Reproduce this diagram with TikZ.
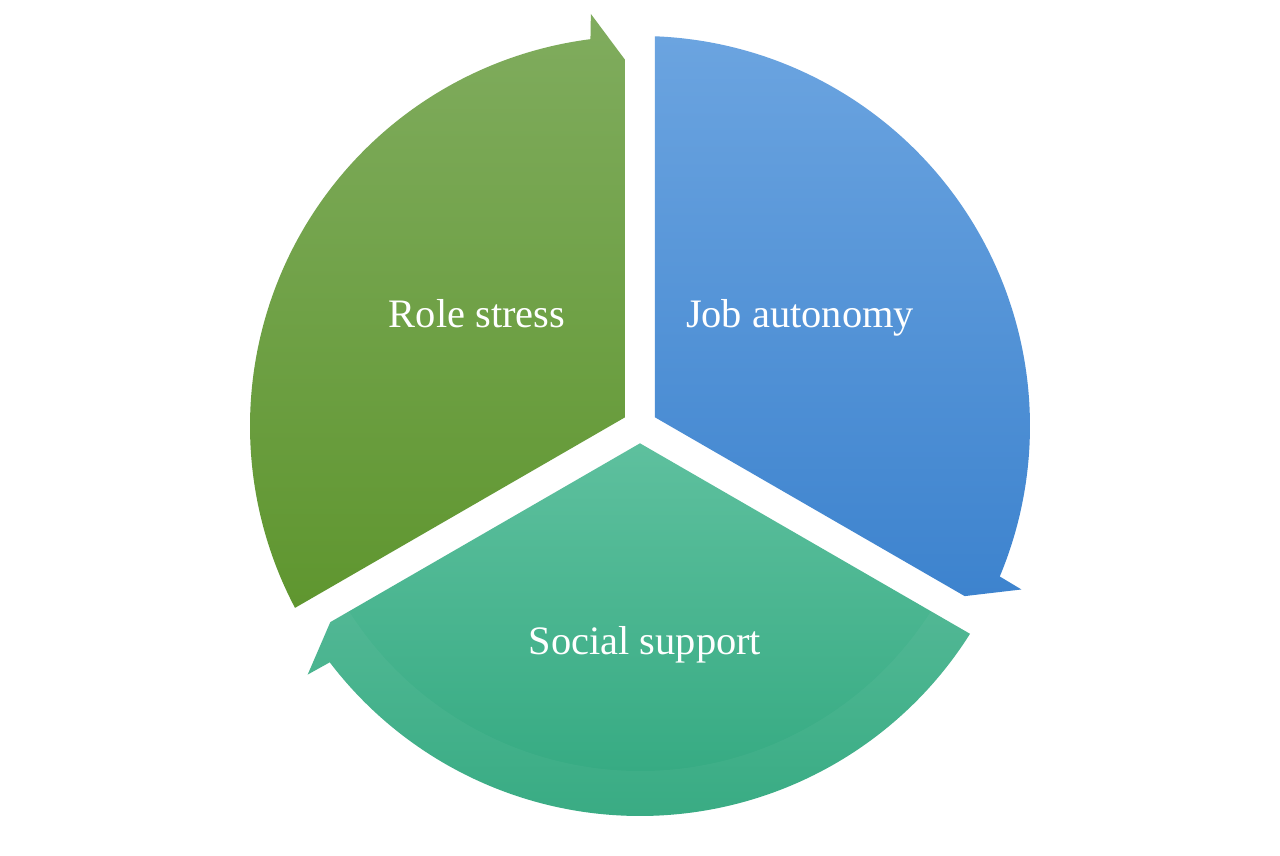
\documentclass[tikz,border=0pt]{standalone}
\usepackage{fontspec}
\setmainfont{Liberation Serif}
\definecolor{gTop}{HTML}{80AC5E}
\definecolor{gBot}{HTML}{5F962F}
\definecolor{bTop}{HTML}{6BA4E0}
\definecolor{bBot}{HTML}{3D83CE}
\definecolor{tTop}{HTML}{5EC09E}
\definecolor{tBot}{HTML}{31A87F}
\tikzset{
  seglabel/.style={text=white, anchor=base, inner sep=0pt, font=\fontsize{23}{28}\selectfont},
}
\begin{document}
\begin{tikzpicture}[scale=0.2]
\path[use as bounding box, fill=white] (-64,-43) rectangle (64,42.6);
% Role stress (green)
\path[top color=gTop, bottom color=gBot]
  (150:1.732) -- (207.8:39) arc[start angle=207.8, end angle=97.3, radius=39]
  -- (96.8:41.5) -- (92.35:36.66) -- cycle;
% Job autonomy (blue)
\path[top color=bTop, bottom color=bBot]
  (30:1.732) -- (87.8:39) arc[start angle=87.8, end angle=-22.7, radius=39]
  -- (-23.2:41.5) -- (-27.65:36.66) -- cycle;
% Social support (teal)
\begin{scope}
\path[top color=tTop, bottom color=tBot]
  (-90:1.732) -- (-32.2:39) arc[start angle=-32.2, end angle=-142.7, radius=39]
  -- (-143.2:41.5) -- (-147.65:36.66) -- cycle;
\clip (-90:1.732) -- (-32.2:39) arc[start angle=-32.2, end angle=-142.7, radius=39]
  -- (-143.2:41.5) -- (-147.65:36.66) -- cycle;
\fill[white, opacity=0.04] (-32.2:42) arc[start angle=-32.2, end angle=-150, radius=42]
  -- (-150:34.5) arc[start angle=-150, end angle=-32.2, radius=34.5] -- cycle;
\end{scope}
\node[seglabel] (role) at (-16.3,9.8) {Role stress};
\node[seglabel] (job) at (16.0,9.8) {Job autonomy};
\node[seglabel] (social) at (0.5,-22.9) {Social support};
\end{tikzpicture}
\end{document}
